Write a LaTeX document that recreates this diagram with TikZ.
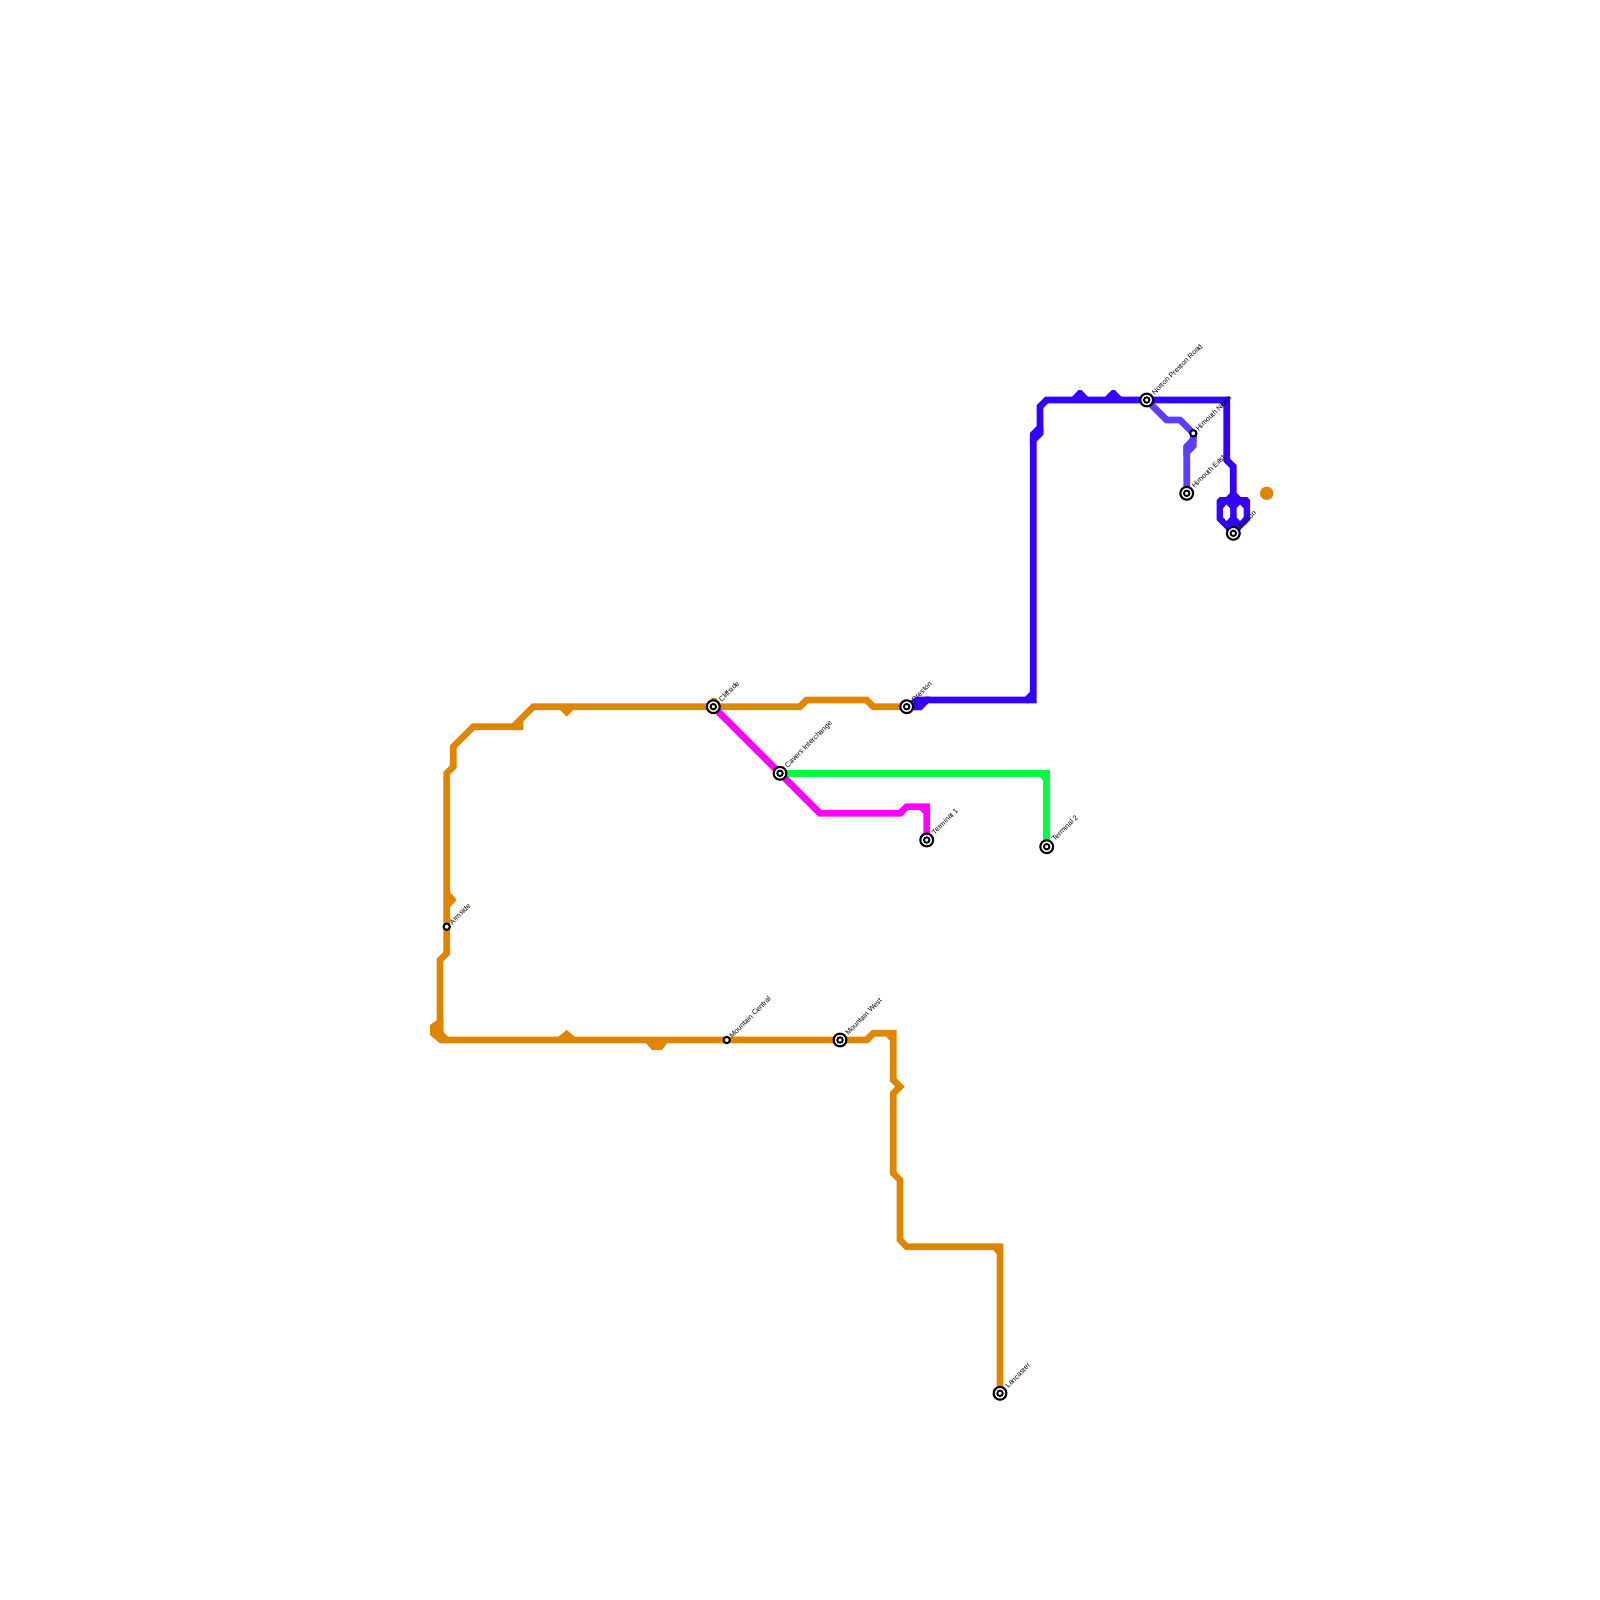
\documentclass[tikz,border=0pt]{standalone}
\usepackage{fontspec}
\setmainfont{Liberation Sans}
\usetikzlibrary{backgrounds}
\definecolor{lorange}{HTML}{DF8600}
\definecolor{lblue}{HTML}{3300FF}
\definecolor{lviolet}{HTML}{5F3DFF}
\definecolor{lmagenta}{HTML}{FF00FF}
\definecolor{lgreen}{HTML}{00FF40}
\tikzset{
  x=0.01cm,y=-0.01cm,
  metro/.style={line width=0.0667cm,line join=miter,miter limit=4},
  bigstn/.style={circle,draw=black,fill=white,line width=0.021cm,minimum size=0.128cm,inner sep=0pt,outer sep=0pt,
    path picture={\draw[black,line width=0.019cm] (path picture bounding box.center) circle (0.0275cm);}},
  smallstn/.style={circle,draw=black,fill=white,line width=0.02cm,minimum size=0.0633cm,inner sep=0pt,outer sep=0pt},
  lbl/.style={anchor=west,rotate=45,inner sep=0pt,outer sep=0pt,font=\fontsize{2.06}{2.5}\selectfont,text=black},
  blob/.style={draw=none}
}
\begin{document}
\begin{tikzpicture}
\useasboundingbox (0,0) rectangle (1600,1600);
% stations
\node[bigstn] (cliff) at (713.3,706.7) {};
\node[bigstn] (cavers) at (780,773.3) {};
\node[bigstn] (preston) at (906.7,706.7) {};
\node[bigstn] (term1) at (926.7,840) {};
\node[bigstn] (term2) at (1046.7,846.7) {};
\node[bigstn] (lanc) at (1000,1393.3) {};
\node[bigstn] (mwest) at (840,1040) {};
\node[smallstn] (mcent) at (726.7,1040) {};
\node[smallstn] (arm) at (446.7,926.7) {};
\node[bigstn] (npr) at (1146.7,400) {};
\node[smallstn] (hnorth) at (1193.3,433.3) {};
\node[bigstn] (heast) at (1186.7,493.3) {};
\node[bigstn] (norton) at (1233.3,533.3) {};
\node[circle,fill=lorange,minimum size=0.1333cm,inner sep=0pt] (dot) at (1266.7,493.3) {};
% labels
\node[lbl] (l1) at (720,700.5) {Cliffside};
\node[lbl] (l2) at (786.5,767) {Cavers Interchange};
\node[lbl] (l3) at (913,700.5) {Preston};
\node[lbl] (l4) at (933,833.5) {Terminal 1};
\node[lbl] (l5) at (1053,840) {Terminal 2};
\node[lbl] (l6) at (1006.5,1387) {Lancaster};
\node[lbl] (l7) at (846.5,1033.5) {Mountain West};
\node[lbl] (l8) at (730.5,1036.5) {Mountain Central};
\node[lbl] (l9) at (450.5,923.5) {Armside};
\node[lbl] (l10) at (1153,393.5) {Norton Preston Road};
\node[lbl] (l11) at (1197,430) {Himouth North};
\node[lbl] (l12) at (1193,487) {Himouth East};
\node[lbl] (l13) at (1239.5,527) {Norton};
\begin{scope}[on background layer]
% orange
\draw[metro,lorange] (cliff.center) -- (800,706.7) -- (806.7,700) -- (866.7,700) -- (873.3,706.7) -- (preston.center);
\draw[metro,lorange] (cliff.center) -- (533.3,706.7) -- (513.3,726.7) -- (473.3,726.7) -- (453.3,746.7) -- (453.3,766.7) -- (446.7,773.3) -- (arm.center) -- (446.7,953.3) -- (440,960) -- (440,1033.3) -- (446.7,1040) -- (mcent.center) -- (mwest.center) -- (866.7,1040) -- (873.3,1033.3) -- (893.3,1033.3) -- (893.3,1080) -- (900,1086.7) -- (893.3,1093.3) -- (893.3,1173.3) -- (900,1180) -- (900,1240) -- (906.7,1246.7) -- (1000,1246.7) -- (lanc.center);
\fill[lorange,blob] (886,1036.5) -- (890.2,1036.5) -- (890.2,1041) -- cycle;
\fill[lorange,blob] (993,1249.9) -- (996.8,1249.9) -- (996.8,1254) -- cycle;
\fill[lorange,blob] (558,708) -- (575,708) -- (566.7,716.7) -- cycle;
\fill[lorange,blob] (558,1037) -- (566.7,1030) -- (575,1037) -- cycle;
\fill[lorange,blob] (449,891) -- (456.7,900) -- (449,908) -- cycle;
\fill[lorange,blob] (513,727) -- (523.3,716.5) -- (523.3,730) -- (513,730) -- cycle;
\fill[lorange,blob] (443.3,1018) -- (440,1018) -- (430,1025) -- (430,1035) -- (440,1043.3) -- (447,1043.3) -- (443.3,1035) -- cycle;
\fill[lorange,blob] (645,1042) -- (668,1042) -- (662,1050) -- (652,1050) -- cycle;
\fill[lorange,blob] (707,703) -- (712,698) -- (716,698) -- (720,703) -- cycle;
% green
\draw[metro,lgreen] (cavers.center) -- (1046.7,773.3) -- (term2.center);
\fill[lgreen,blob] (1039.5,776.5) -- (1043.5,776.5) -- (1043.5,781) -- cycle;
% magenta
\draw[metro,lmagenta] (cliff.center) -- (cavers.center) -- (820,813.3) -- (900,813.3) -- (906.7,806.7) -- (926.7,806.7) -- (term1.center);
\fill[lmagenta,blob] (919.5,809.9) -- (923.5,809.9) -- (923.5,814) -- cycle;
% violet
\draw[metro,lviolet] (npr.center) -- (1166.7,420) -- (1180,420) -- (hnorth.center) -- (1193.3,440) -- (1186.7,446.7) -- (heast.center);
\fill[lviolet,blob] (1183.3,446) -- (1190,438) -- (1196.7,436) -- (1196.7,447) -- (1190,454) -- (1183.3,456) -- cycle;
% blue
\draw[metro,lblue] (preston.center) -- (920,706.7) -- (926.7,700) -- (1026.7,700) -- (1033.3,693.3);
\draw[metro,lblue] (1026.7,700) -- (1033.3,700) -- (1033.3,440) -- (1040,433.3) -- (1040,406.7) -- (1046.7,400) -- (npr.center);
\draw[metro,lblue] (npr.center) -- (1226.7,400) -- (1226.7,460) -- (1233.3,466.7) -- (1233.3,500);
\fill[lblue,blob] (1219.5,403) -- (1223.5,403) -- (1223.5,407.5) -- cycle;
\fill[lblue,blob] (906,710) -- (921.7,710) -- (928,703.3) -- (930,696.7) -- (916,696.7) -- (908,703) -- cycle;
\fill[lblue,blob] (1029.9,433) -- (1038,425) -- (1043.3,427) -- (1043.3,433) -- (1035,441) -- (1029.9,445) -- cycle;
\fill[lblue,blob] (1072,397) -- (1078.5,390) -- (1081.5,390) -- (1088,397) -- cycle;
\fill[lblue,blob] (1105,397) -- (1111.8,390) -- (1114.8,390) -- (1121.5,397) -- cycle;
\fill[lblue,blob] (1216.7,500) -- (1220,497) -- (1226,497) -- (1230,493) -- (1236.7,493) -- (1240.5,497) -- (1247,497) -- (1250,500) -- (1250,520) -- (1233.3,537) -- (1216.7,520) -- cycle;
\fill[white,blob] (1226.5,504.5) -- (1230,508.5) -- (1230,517) -- (1226.5,521) -- (1223,517) -- (1223,508.5) -- cycle;
\fill[white,blob] (1240,504.5) -- (1243.5,508.5) -- (1243.5,517) -- (1240,521) -- (1236.5,517) -- (1236.5,508.5) -- cycle;
\end{scope}
\end{tikzpicture}
\end{document}
